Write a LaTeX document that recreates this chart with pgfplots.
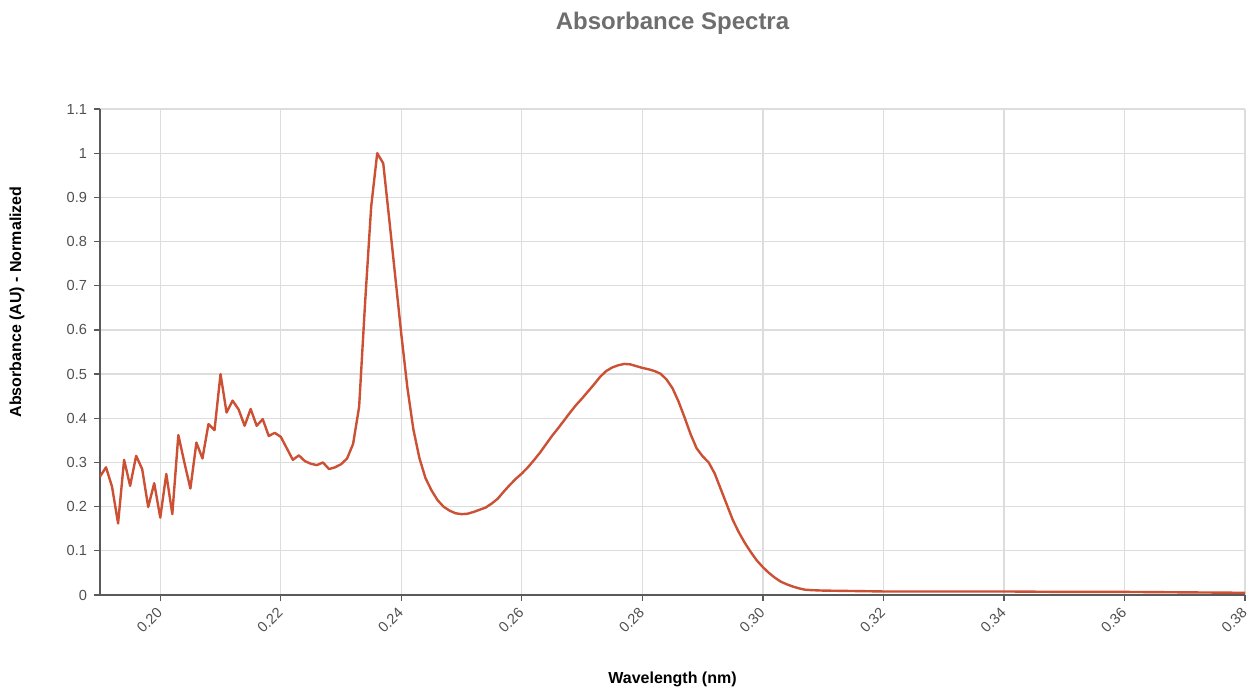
\documentclass[border=0pt]{standalone}
\usepackage{pgfplots}
\pgfplotsset{compat=1.18}
\usepackage{fontspec}
\setmainfont{Liberation Sans}
\definecolor{linec}{RGB}{204,80,52}
\definecolor{titlec}{RGB}{110,110,110}
\definecolor{gridc}{RGB}{221,221,221}
\definecolor{axisc}{RGB}{90,90,90}
\definecolor{tickc}{RGB}{80,80,80}
\begin{document}
\begin{tikzpicture}
\useasboundingbox (0,0) rectangle (626.5pt,346pt);
\begin{axis}[
  at={(50pt,48.5pt)}, anchor=south west,
  scale only axis, width=572.5pt, height=243pt,
  xmin=0.19, xmax=0.38, ymin=0, ymax=1.1,
  axis x line*=bottom, axis y line*=left,
  axis line style={axisc, line width=0.9pt},
  xtick={0.20,0.22,...,0.381},
  ytick={0,0.1,...,1.11},
  tick align=outside, major tick length=3pt,
  tick style={axisc, line width=0.6pt},
  grid=major, major grid style={gridc, line width=0.6pt},
  /pgf/number format/assume math mode=true,
  xticklabel style={/pgf/number format/fixed, /pgf/number format/fixed zerofill, /pgf/number format/precision=2, rotate=45, anchor=east, yshift=-3pt, font=\fontsize{7.3}{8}\selectfont, text=tickc},
  yticklabel style={/pgf/number format/fixed, /pgf/number format/precision=1, font=\fontsize{7.3}{8}\selectfont, text=tickc},
  scaled x ticks=false, scaled y ticks=false,
  title={Absorbance Spectra},
  title style={at={(axis description cs:0.5,1)}, anchor=base, yshift=33.5pt, font=\bfseries\fontsize{12}{14}\selectfont, text=titlec},
  xlabel={Wavelength (nm)},
  xlabel style={at={(axis description cs:0.5,0)}, anchor=base, yshift=-44pt, font=\bfseries\fontsize{8}{10}\selectfont},
  ylabel={Absorbance (AU) - Normalized},
  ylabel style={at={(axis description cs:0,0.603)}, anchor=center, xshift=0pt, yshift=41.5pt, font=\bfseries\fontsize{8}{10}\selectfont},
]
\addplot[linec, line width=1.2pt, line join=round] coordinates {
(0.190,0.268) (0.191,0.289) (0.192,0.245) (0.193,0.162) (0.194,0.306)
(0.195,0.247) (0.196,0.315) (0.197,0.285) (0.198,0.199) (0.199,0.253)
(0.200,0.175) (0.201,0.274) (0.202,0.183) (0.203,0.362) (0.204,0.300)
(0.205,0.241) (0.206,0.345) (0.207,0.309) (0.208,0.387) (0.209,0.373)
(0.210,0.500) (0.211,0.413) (0.212,0.440) (0.213,0.420) (0.214,0.383)
(0.215,0.421) (0.216,0.383) (0.217,0.398) (0.218,0.360) (0.219,0.367)
(0.220,0.358) (0.221,0.332) (0.222,0.306) (0.223,0.316) (0.224,0.303)
(0.225,0.297) (0.226,0.294) (0.227,0.300) (0.228,0.285) (0.229,0.289)
(0.230,0.296) (0.231,0.309) (0.232,0.342) (0.233,0.426) (0.234,0.664)
(0.235,0.879) (0.236,1.000) (0.237,0.977) (0.238,0.850) (0.239,0.720)
(0.240,0.590) (0.241,0.470) (0.242,0.375) (0.243,0.310) (0.244,0.265)
(0.245,0.237) (0.246,0.215) (0.247,0.200) (0.248,0.191) (0.249,0.185)
(0.250,0.183) (0.251,0.184) (0.252,0.188) (0.253,0.193) (0.254,0.198)
(0.255,0.207) (0.256,0.218) (0.257,0.234) (0.258,0.249) (0.259,0.263)
(0.260,0.275) (0.261,0.289) (0.262,0.305) (0.263,0.322) (0.264,0.341)
(0.265,0.360) (0.266,0.377) (0.267,0.395) (0.268,0.413) (0.269,0.430)
(0.270,0.445) (0.271,0.461) (0.272,0.477) (0.273,0.494) (0.274,0.507)
(0.275,0.515) (0.276,0.520) (0.277,0.523) (0.278,0.522) (0.279,0.518)
(0.280,0.514) (0.281,0.511) (0.282,0.507) (0.283,0.501) (0.284,0.488)
(0.285,0.468) (0.286,0.438) (0.287,0.402) (0.288,0.364) (0.289,0.332)
(0.290,0.314) (0.291,0.300) (0.292,0.275) (0.293,0.240) (0.294,0.205)
(0.295,0.170) (0.296,0.142) (0.297,0.118) (0.298,0.097) (0.299,0.078)
(0.300,0.063) (0.301,0.050) (0.302,0.039) (0.303,0.030) (0.304,0.024)
(0.305,0.019) (0.306,0.015) (0.307,0.012) (0.308,0.011) (0.310,0.010)
(0.315,0.009) (0.320,0.008) (0.330,0.008) (0.340,0.008) (0.350,0.007)
(0.360,0.007) (0.370,0.006) (0.380,0.005)
};
\end{axis}
\end{tikzpicture}
\end{document}
